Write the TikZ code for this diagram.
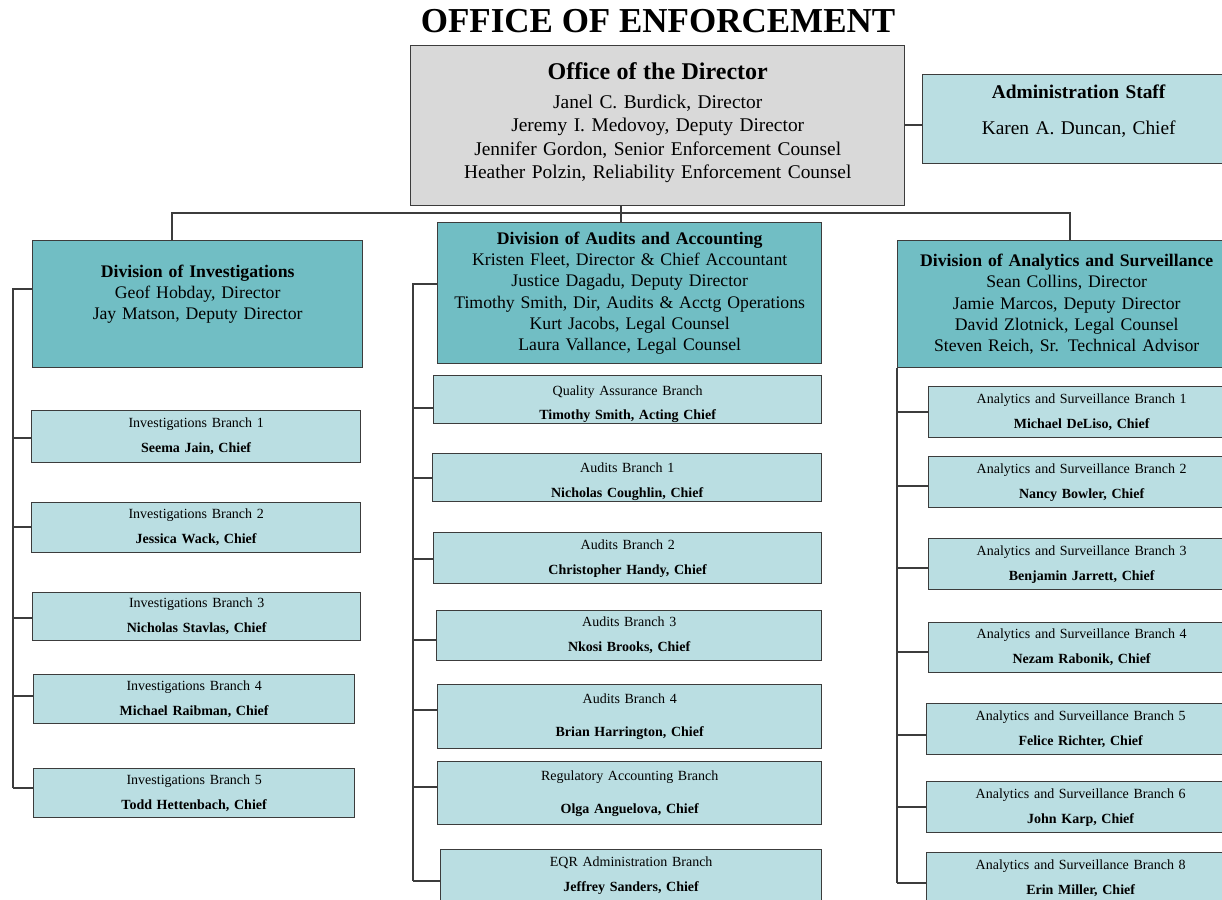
\documentclass[tikz,border=0pt]{standalone}
\usepackage{fontspec}
\setmainfont{Liberation Serif}
\definecolor{officegray}{HTML}{D9D9D9}
\definecolor{divteal}{HTML}{71BEC4}
\definecolor{branchblue}{HTML}{BADEE2}
\definecolor{boxline}{HTML}{3C3C3C}

\begin{document}
\begin{tikzpicture}[x=1pt, y=-1pt,
      box/.style={draw=boxline, line width=1.4pt, anchor=north west, align=center, inner sep=0pt},
      boxsize/.style 2 args={minimum width=#1pt, minimum height=#2pt, text width=#1pt},
      office/.style={box, fill=officegray, font=\fontsize{19.4}{23.4}\selectfont},
      division/.style={box, fill=divteal, font=\fontsize{17.7}{21.3}\selectfont},
      branch/.style={box, fill=branchblue, font=\fontsize{14}{16.8}\selectfont},
      wire/.style={draw=boxline, line width=1.4pt}]
  \clip (0,0) rectangle (1222,899);

  \node[font=\fontsize{35}{40}\selectfont\bfseries] (title) at (658,21) {OFFICE OF ENFORCEMENT};

  % top level
  \node[office, boxsize={494}{160}] (dir) at (410,45)
    {{\fontsize{24}{29}\selectfont\bfseries Office of the Director}\\[5.6pt]
     Janel C. Burdick, Director\\ Jeremy I. Medovoy, Deputy Director\\
     Jennifer Gordon, Senior Enforcement Counsel\\ Heather Polzin, Reliability Enforcement Counsel\\[-13pt]\mbox{}};
  \node[office, fill=branchblue, boxsize={312}{89}] (admin) at (922,74)
    {\textbf{Administration Staff}\\[12.6pt] Karen A. Duncan, Chief\\[-4.7pt]\mbox{}};

  % divisions
  \node[division, boxsize={330}{127}] (inv) at (32,240)
    {\textbf{Division of Investigations}\\ Geof Hobday, Director\\ Jay Matson, Deputy Director\\[2.6pt]\mbox{}};
  \node[division, boxsize={384}{141}] (aud) at (437,222)
    {\textbf{Division of Audits and Accounting}\\ Kristen Fleet, Director \& Chief Accountant\\
     Justice Dagadu, Deputy Director\\ Timothy Smith, Dir, Audits \& Acctg Operations\\
     Kurt Jacobs, Legal Counsel\\ Laura Vallance, Legal Counsel};
  \node[division, boxsize={338}{127}] (ana) at (897,240)
    {\textbf{Division of Analytics and Surveillance}\\ Sean Collins, Director\\
     Jamie Marcos, Deputy Director\\ David Zlotnick, Legal Counsel\\ Steven Reich, Sr. Technical Advisor};

  % investigations branches
  \node[branch, boxsize={329}{52}] (ib1) at (31,410) {Investigations Branch 1\\[8.2pt]\textbf{Seema Jain, Chief}};
  \node[branch, boxsize={329}{50}] (ib2) at (31,502) {Investigations Branch 2\\[8.2pt]\textbf{Jessica Wack, Chief}};
  \node[branch, boxsize={328}{48}] (ib3) at (32,592) {Investigations Branch 3\\[8.2pt]\textbf{Nicholas Stavlas, Chief}};
  \node[branch, boxsize={321}{49}] (ib4) at (33,674) {Investigations Branch 4\\[8.2pt]\textbf{Michael Raibman, Chief}};
  \node[branch, boxsize={321}{49}] (ib5) at (33,768) {Investigations Branch 5\\[8.2pt]\textbf{Todd Hettenbach, Chief}};

  % audits branches
  \node[branch, boxsize={388}{48}] (qa) at (433,375) {\mbox{}\\[1.2pt]Quality Assurance Branch\\[7.2pt]\textbf{Timothy Smith, Acting Chief}};
  \node[branch, boxsize={389}{48}] (ab1) at (432,453) {\mbox{}\\[1.2pt]Audits Branch 1\\[8.2pt]\textbf{Nicholas Coughlin, Chief}};
  \node[branch, boxsize={388}{51}] (ab2) at (433,532) {Audits Branch 2\\[8.2pt]\textbf{Christopher Handy, Chief}};
  \node[branch, boxsize={385}{50}] (ab3) at (436,610) {Audits Branch 3\\[8.2pt]\textbf{Nkosi Brooks, Chief}};
  \node[branch, boxsize={384}{64}] (ab4) at (437,684) {Audits Branch 4\\[16.2pt]\textbf{Brian Harrington, Chief}};
  \node[branch, boxsize={384}{63}] (reg) at (437,761) {Regulatory Accounting Branch\\[16.2pt]\textbf{Olga Anguelova, Chief}};
  \node[branch, boxsize={381}{52}] (eqr) at (440,849) {EQR Administration Branch\\[8.2pt]\textbf{Jeffrey Sanders, Chief}};

  % analytics branches
  \node[branch, boxsize={306}{51}] (as1) at (928,386) {Analytics and Surveillance Branch 1\\[8.2pt]\textbf{Michael DeLiso, Chief}};
  \node[branch, boxsize={306}{51}] (as2) at (928,456) {Analytics and Surveillance Branch 2\\[8.2pt]\textbf{Nancy Bowler, Chief}};
  \node[branch, boxsize={306}{51}] (as3) at (928,538) {Analytics and Surveillance Branch 3\\[8.2pt]\textbf{Benjamin Jarrett, Chief}};
  \node[branch, boxsize={306}{50}] (as4) at (928,622) {Analytics and Surveillance Branch 4\\[8.2pt]\textbf{Nezam Rabonik, Chief}};
  \node[branch, boxsize={308}{51}] (as5) at (926,703) {Analytics and Surveillance Branch 5\\[8.2pt]\textbf{Felice Richter, Chief}};
  \node[branch, boxsize={308}{51}] (as6) at (926,781) {Analytics and Surveillance Branch 6\\[8.2pt]\textbf{John Karp, Chief}};
  \node[branch, boxsize={308}{52}] (as8) at (926,852) {Analytics and Surveillance Branch 8\\[8.2pt]\textbf{Erin Miller, Chief}};

  % connectors
  \coordinate (bus) at (621,213);
  \coordinate (busL) at (172,213);
  \coordinate (busR) at (1070,213);
  \draw[wire] (dir.east |- 0,125) -- (admin.west |- 0,125);
  \draw[wire] (bus |- dir.south) -- (bus |- aud.north);
  \draw[wire] (busL |- inv.north) -- (busL) -- (busR) -- (busR |- ana.north);

  \draw[wire] (inv.west |- 0,289) -- (13,289) -- (13,788);
  \foreach \b/\y in {ib1/438, ib2/527, ib3/618, ib4/696, ib5/788}
    \draw[wire] (13,\y) -- (\b.west |- 0,\y);

  \draw[wire] (aud.west |- 0,284) -- (413,284) -- (413,881);
  \foreach \b/\y in {qa/408, ab1/478, ab2/559, ab3/640, ab4/710, reg/787, eqr/881}
    \draw[wire] (413,\y) -- (\b.west |- 0,\y);

  \draw[wire] (ana.south west) -- (897,883);
  \foreach \b/\y in {as1/412, as2/486, as3/568, as4/652, as5/735, as6/807, as8/883}
    \draw[wire] (897,\y) -- (\b.west |- 0,\y);
\end{tikzpicture}
\end{document}
